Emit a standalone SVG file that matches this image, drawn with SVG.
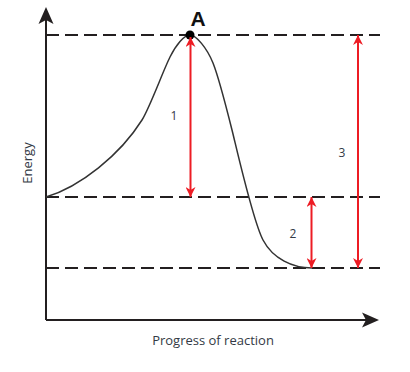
<svg xmlns="http://www.w3.org/2000/svg" width="410" height="372" viewBox="0 0 410 372">
<style>
.axis{stroke:#231f20;stroke-width:2;fill:none}
.dash{stroke:#231f20;stroke-width:2.2;stroke-dasharray:13 6;fill:none}
.curve{stroke:#333;stroke-width:1.5;fill:none}
.red{stroke:#ed1c24;stroke-width:2;fill:none;marker-start:url(#rh);marker-end:url(#rh)}
.lbl{font-family:"Open Sans","Liberation Sans",sans-serif;font-size:12px;fill:#333a45}
</style>
<defs>
<marker id="rh" viewBox="0 0 10 10" refX="10" refY="5" markerWidth="10" markerHeight="10" markerUnits="userSpaceOnUse" orient="auto-start-reverse">
<path d="M0,0 L10,5 L0,10 L3,5 Z" fill="#ed1c24"/>
</marker>
</defs>
<g id="axes">
<path class="axis" d="M46,320 V20 M46,320 H366"/>
<path d="M46,7 L53.5,24 L46,20 L38.5,24 Z" fill="#231f20"/>
<path d="M379,320 L362,327.5 L366,320 L362,312.5 Z" fill="#231f20"/>
</g>
<g id="levels">
<path class="dash" d="M46,35 H380"/>
<path class="dash" d="M46,197 H380"/>
<path class="dash" d="M46,268 H380"/>
</g>
<g id="curve">
<path class="curve" d="M46,197 C80,187 120,155 142,120 C150,107 163,71 170,57 C176,45 184,35 190,35 C196,35 207,48 213,63 C219,78 228,114 232,130 C237,150 253,221 263,240 C273,259 293,268 312,268"/>
</g>
<g id="point-A">
<circle cx="190" cy="35" r="4.5" fill="#000"/>
<text x="198" y="26" text-anchor="middle" font-family="'Liberation Sans',Arial,sans-serif" font-weight="bold" font-size="21" fill="#111">A</text>
</g>
<g id="connectors">
<path class="red" d="M190.5,37 V197"/>
<path class="red" d="M311.5,197 V268"/>
<path class="red" d="M358,35 V268"/>
</g>
<g id="labels">
<text class="lbl" x="174" y="120" text-anchor="middle">1</text>
<text class="lbl" x="293" y="238" text-anchor="middle">2</text>
<text class="lbl" x="342" y="157" text-anchor="middle">3</text>
<text class="lbl" x="213" y="345" text-anchor="middle" style="font-size:13px">Progress of reaction</text>
<text class="lbl" transform="translate(32,163) rotate(-90)" text-anchor="middle" style="font-size:13px">Energy</text>
</g>
</svg>
